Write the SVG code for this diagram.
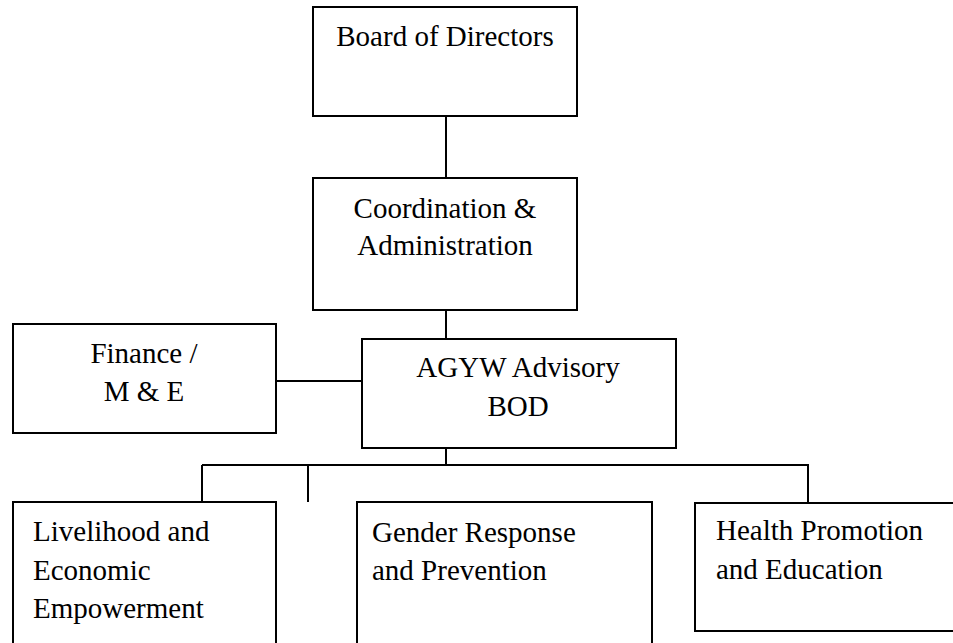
<svg xmlns="http://www.w3.org/2000/svg" width="953" height="643" viewBox="0 0 953 643">
<style>
.box{fill:#fff;stroke:#000;stroke-width:2}
.ln{stroke:#000;stroke-width:2;fill:none}
text{font-family:"Liberation Serif","Times New Roman",serif;font-size:29px;fill:#000}
.c{text-anchor:middle}
</style>
<rect width="953" height="643" fill="#fff"/>
<g id="connectors">
<line class="ln" x1="446" y1="116" x2="446" y2="178"/>
<line class="ln" x1="446" y1="310" x2="446" y2="339"/>
<line class="ln" x1="276" y1="381" x2="362" y2="381"/>
<line class="ln" x1="446" y1="448" x2="446" y2="466"/>
<line class="ln" x1="202" y1="465" x2="809" y2="465"/>
<line class="ln" x1="202" y1="465" x2="202" y2="502"/>
<line class="ln" x1="308" y1="465" x2="308" y2="502"/>
<line class="ln" x1="808" y1="465" x2="808" y2="503"/>
</g>
<g id="board">
<rect class="box" x="313" y="7" width="264" height="109"/>
<text class="c" x="445" y="46">Board of Directors</text>
</g>
<g id="coordination">
<rect class="box" x="313" y="178" width="264" height="132"/>
<text class="c" x="445" y="218">Coordination &amp;</text>
<text class="c" x="445" y="255">Administration</text>
</g>
<g id="finance">
<rect class="box" x="13" y="324" width="263" height="109"/>
<text class="c" x="144" y="363">Finance /</text>
<text class="c" x="144" y="401">M &amp; E</text>
</g>
<g id="agyw">
<rect class="box" x="362" y="339" width="314" height="109"/>
<text class="c" x="518" y="377">AGYW Advisory</text>
<text class="c" x="518" y="416">BOD</text>
</g>
<g id="livelihood">
<rect class="box" x="13" y="502" width="263" height="160"/>
<text x="33" y="541">Livelihood and</text>
<text x="33" y="580">Economic</text>
<text x="33" y="618">Empowerment</text>
</g>
<g id="gender">
<rect class="box" x="357" y="502" width="295" height="160"/>
<text x="372" y="542">Gender Response</text>
<text x="372" y="580">and Prevention</text>
</g>
<g id="health">
<rect class="box" x="695" y="503" width="280" height="128"/>
<text x="716" y="540">Health Promotion</text>
<text x="716" y="579">and Education</text>
</g>
</svg>
